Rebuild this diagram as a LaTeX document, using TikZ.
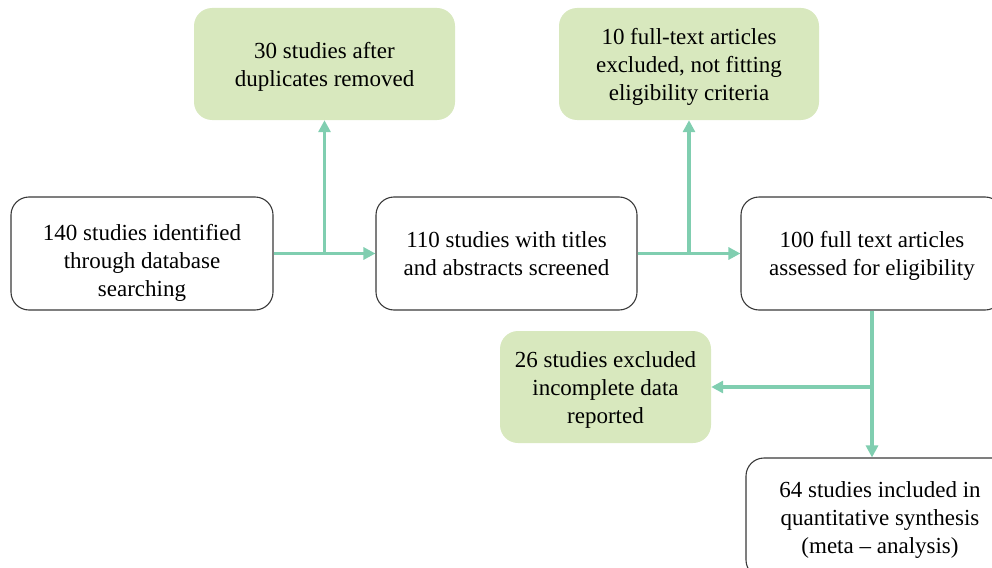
\documentclass[tikz,border=0pt]{standalone}
\usepackage{fontspec}
\setmainfont{Liberation Serif}
\usetikzlibrary{arrows.meta}
\definecolor{linegreen}{HTML}{80CEB0}
\definecolor{boxgreen}{HTML}{D8E8BE}
\definecolor{boxline}{HTML}{3A3A3A}
\newcommand{\lowr}[1]{\rule{0pt}{#1}}
\tikzset{
  basebox/.style={rounded corners=18pt, align=center, inner sep=0pt,
    font=\fontsize{23}{28}\selectfont},
  whitebox/.style={basebox, draw=boxline, line width=1.1pt, fill=white},
  greenbox/.style={basebox, fill=boxgreen},
  conn/.style={draw=linegreen, line width=3.5pt,
    -{Triangle[length=12pt,width=12pt]}}
}
\begin{document}
\begin{tikzpicture}[x=1pt,y=-1pt]
\useasboundingbox (0,0) rectangle (992,567);
\clip (0,0) rectangle (992,567);
\node[whitebox, minimum width=262pt, minimum height=113pt] (A) at (142,253.5)
  {\lowr{35.5pt}140 studies identified\\through database\\searching};
\node[whitebox, minimum width=261pt, minimum height=113pt] (B) at (506.5,253.5)
  {\lowr{17pt}110 studies with titles\\and abstracts screened};
\node[whitebox, minimum width=262pt, minimum height=113pt] (C) at (872,253.5)
  {\lowr{21.5pt}100 full text articles\\assessed for eligibility};
\node[greenbox, minimum width=261pt, minimum height=112pt] (G1) at (324.5,64)
  {\lowr{21.5pt}30 studies after\\duplicates removed};
\node[greenbox, minimum width=260pt, minimum height=112pt] (G2) at (689,64)
  {\lowr{21.5pt}10 full-text articles\\excluded, not fitting\\eligibility criteria};
\node[greenbox, minimum width=211pt, minimum height=112pt] (G3) at (605.5,387)
  {\lowr{21.5pt}26 studies excluded\\incomplete data\\reported};
\node[whitebox, minimum width=268pt, minimum height=120pt] (E) at (880,518)
  {\lowr{19.5pt}64 studies included in\\quantitative synthesis\\(meta -- analysis)};
\coordinate (J1) at (A.east -| G1.south);
\coordinate (J2) at (B.east -| G2.south);
\coordinate (J3) at (C.south |- G3.east);
\draw[conn] (A.east) -- (B.west);
\draw[conn] (J1) -- (G1.south);
\draw[conn] (B.east) -- (C.west);
\draw[conn] (J2) -- (G2.south);
\draw[conn] (C.south) -- (C.south |- E.north);
\draw[conn] (J3) -- (G3.east);
\end{tikzpicture}
\end{document}
